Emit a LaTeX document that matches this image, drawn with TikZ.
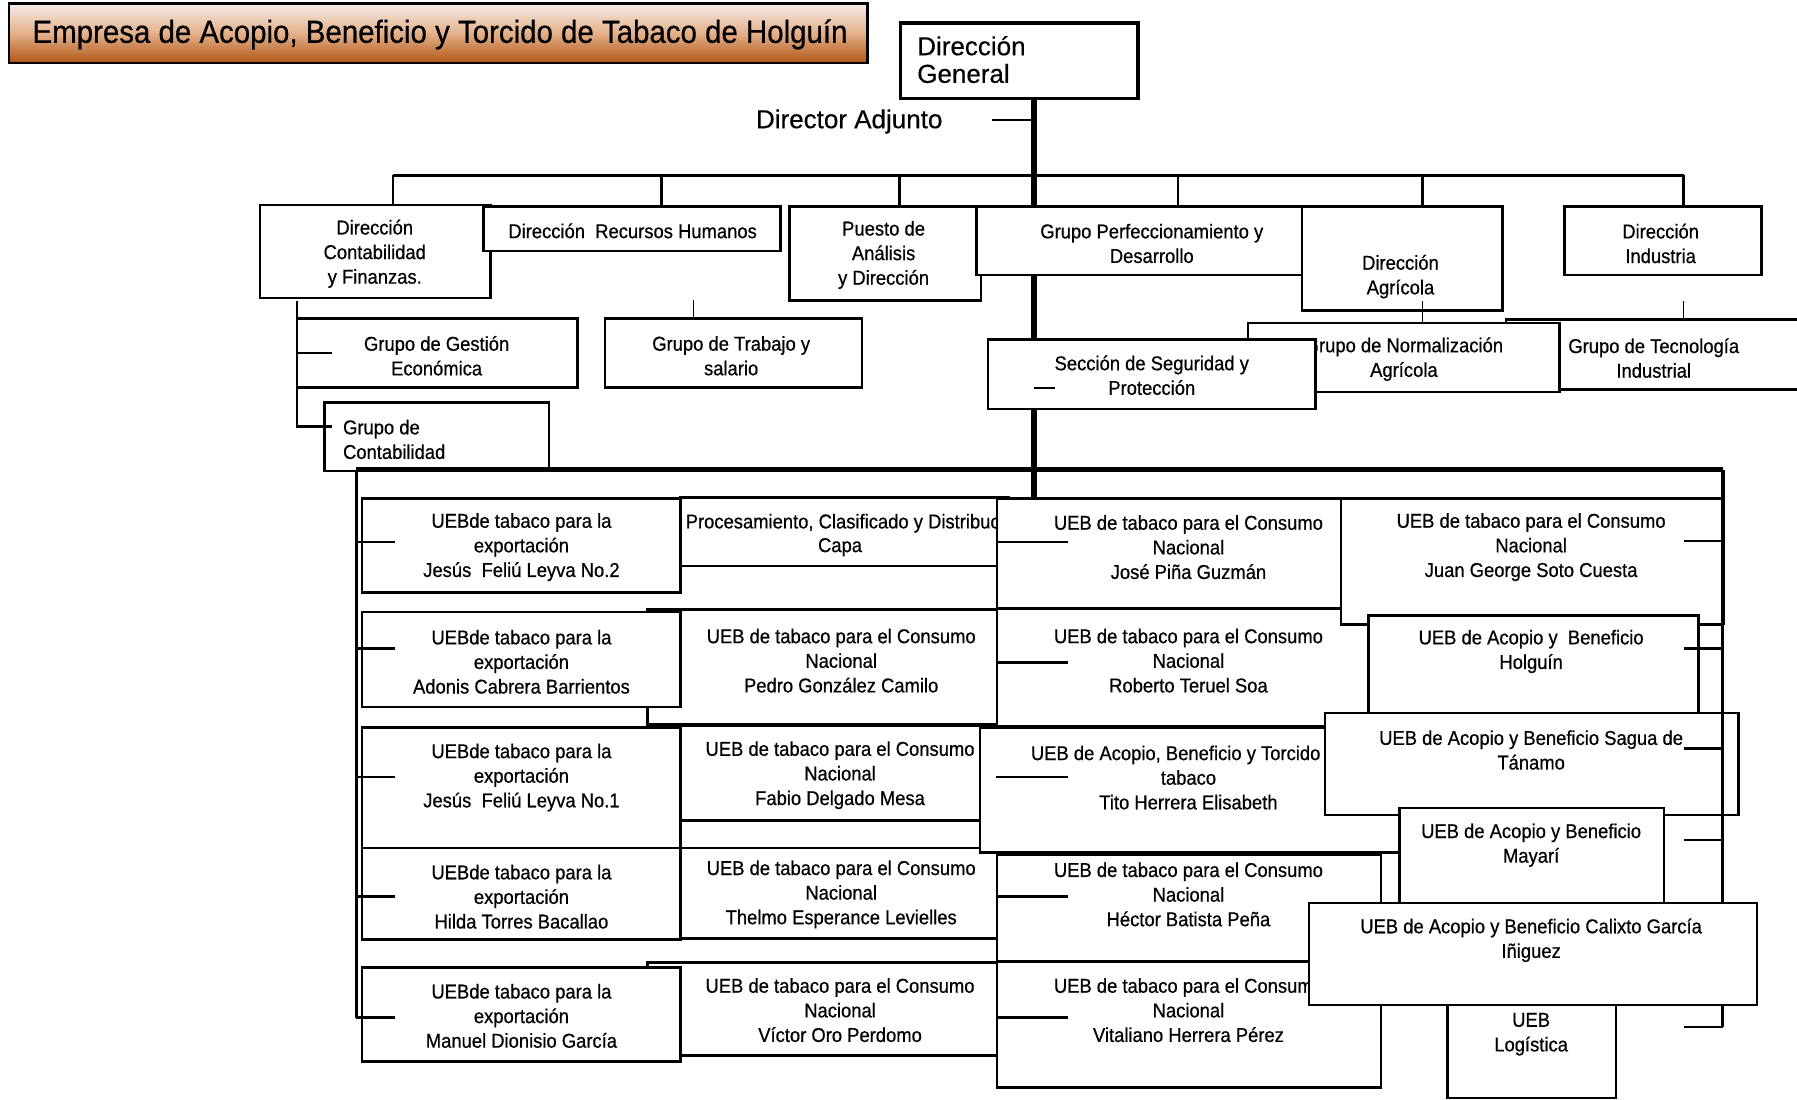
\documentclass[tikz,border=0pt]{standalone}
\usepackage{fontspec}
\setmainfont{Liberation Sans}[FakeBold=0.4]
\newfontfamily\boxfont{Liberation Sans}[FakeStretch=0.92, FakeBold=0.6]
\usepackage{tikz}
\usetikzlibrary{fit}

\definecolor{titletop}{RGB}{246,236,232}
\definecolor{titlemid}{RGB}{228,176,138}
\definecolor{titlebot}{RGB}{176,86,20}

\begin{document}
\begin{tikzpicture}[x=0.573pt, y=-0.573pt,
    unit/.style={draw, line width=1.3pt, fill=white, inner sep=0pt},
    txt/.style={font=\boxfont\fontsize{10}{12.3}\selectfont, align=center, inner sep=0pt, yshift=-1.4pt},
    head/.style={font=\fontsize{13}{13.8}\selectfont, inner sep=0pt},
    link/.style={line width=1.3pt},
    tick/.style={line width=0.7pt},
    trunk/.style={line width=3pt}]
    \useasboundingbox (0,0) rectangle (1568,959);
    \clip (0,0) rectangle (1568,959);

    % Title
    \node[draw, line width=1.2pt, top color=titletop, bottom color=titlebot, middle color=titlemid,
          inner sep=0pt, fit={(8,3) (757,55)}] (title) {};
    \node[font=\boxfont\fontsize{16}{18}\selectfont, inner sep=0pt] (titletext) at (384,30)
          {Empresa de Acopio, Beneficio y Torcido de Tabaco de Holguín};

    % Bus points
    \coordinate (d1) at (343,153);
    \coordinate (d2) at (577,153);
    \coordinate (d3) at (785,153);
    \coordinate (d4) at (902,153);
    \coordinate (d5) at (1028,153);
    \coordinate (d6) at (1241,153);
    \coordinate (d7) at (1469,153);

    % Direccion General and adjunto
    \node[unit, line width=1.6pt, fit={(786,20) (993,86)}] (dg) {};
    \node[head, align=left, anchor=west] (dgt) at (800,52) {Dirección\\General};
    \node[head] (adj) at (741,106) {Director Adjunto};
    \coordinate (adjdash) at (866,105);
    \draw[tick, line width=1pt] (adjdash) -- (adjdash -| d4);

    % Trunk
    \draw[trunk] (d4 |- dg.south) -- (d4 |- 0,434);

    % Frame of the UEB
    \coordinate (fl) at (311,410);
    \coordinate (fr) at (1503,410);
    \draw[link] (fl) -- (fl |- 0,888);
    \draw[line width=2pt] (fr) -- (fr |- 0,545);

    % First level
    \node[unit, fit={(227,179) (428,260)}] (dcf) {};
    \node[txt] (dcft) at (327,219) {Dirección\\Contabilidad\\y Finanzas.};
    \node[unit, fit={(422,180) (681,219)}] (drh) {};
    \node[txt] (drht) at (552,199) {Dirección\ \ Recursos Humanos};
    \node[unit, fit={(689,180) (856,262)}] (pad) {};
    \node[txt] (padt) at (771,220) {Puesto de\\Análisis\\y Dirección};
    \node[unit, fit={(852,180) (1136,240)}] (gpd) {};
    \node[txt] (gpdt) at (1005,210) {Grupo Perfeccionamiento y\\Desarrollo};
    \node[unit, fit={(1136,180) (1311,271)}] (dag) {};
    \node[txt] (dagt) at (1222,239) {Dirección\\Agrícola};
    \node[unit, fit={(1365,180) (1537,240)}] (din) {};
    \node[txt] (dint) at (1449,210) {Dirección\\Industria};

    \draw[link] (d1) -- (d7);
    \foreach \b/\n in {d1/dcf, d2/drh, d3/pad, d5/gpd, d6/dag, d7/din}
        \draw[link] (\b) -- (\b |- \n.north);

    % Second level
    \node[unit, fit={(259,278) (504,338)}] (gge) {};
    \node[txt] (gget) at (381,308) {Grupo de Gestión\\Económica};
    \node[unit, fit={(528,278) (752,338)}] (gts) {};
    \node[txt] (gtst) at (638,308) {Grupo de Trabajo y\\salario};
    \node[unit, fit={(283,351) (479,411)}] (gco) {};
    \node[txt, align=left, anchor=west] (gcot) at (299,381) {Grupo de\\Contabilidad};

    \coordinate (lc) at (259,263);
    \draw[link] (lc) |- (290,372);
    \draw[link] (lc |- 0,308) -- ++(31,0);
    \coordinate (rh) at (605,262);
    \draw[tick] (rh) -- (rh |- gts.north);

    \node[unit, fit={(1314,279) (1620,340)}] (gtec) {};
    \node[txt] (gtect) at (1443,310) {Grupo de Tecnología\\Industrial};
    \node[unit, fit={(1089,282) (1361,342)}] (gna) {};
    \node[txt] (gnat) at (1225,311) {Grupo de Normalización\\Agrícola};
    \node[unit, fit={(862,296) (1148,357)}] (ssp) {};
    \node[txt] (sspt) at (1005,325) {Sección de Seguridad y\\Protección};

    \coordinate (ag) at (1241,263);
    \draw[tick] (ag) -- (ag |- gna.north);
    \coordinate (ind) at (1469,263);
    \draw[tick] (ind) -- (ind |- gtec.north);
    \draw[tick, line width=1pt] (ssp.south west) ++(41,-20) -- ++(19,0);

    \draw[line width=2.6pt] (fl) -- (fr);

    % UEB, second column
    \node[unit, fit={(565,532) (870,632)}] (cn1) {};
    \node[txt] (cn1t) at (734,574) {UEB de tabaco para el Consumo\\Nacional\\Pedro González Camilo};
    \node[unit, fit={(565,840) (870,921)}] (cn4) {};
    \node[txt] (cn4t) at (733,879) {UEB de tabaco para el Consumo\\Nacional\\Víctor Oro Perdomo};
    \node[unit, fit={(594,434) (880,494)}] (pc) {};
    \node[txt, anchor=west] (pct1) at (598,454) {Procesamiento, Clasificado y Distribución};
    \node[txt] (pct2) at (733,475) {Capa};
    \node[unit, fit={(594,633) (855,740)}] (cn2b) {};
    \node[unit, fit={(594,633) (855,716)}] (cn2) {};
    \node[txt] (cn2t) at (733,674) {UEB de tabaco para el Consumo\\Nacional\\Fabio Delgado Mesa};
    \node[unit, fit={(594,740) (870,819)}] (cn3) {};
    \node[txt] (cn3t) at (734,778) {UEB de tabaco para el Consumo\\Nacional\\Thelmo Esperance Levielles};

    % UEB de exportacion
    \node[unit, fit={(316,435) (594,517)}] (ex1) {};
    \node[txt] (ex1t) at (455,475) {UEBde tabaco para la\\exportación\\Jesús\ \ Feliú Leyva No.2};
    \node[unit, fit={(316,534) (594,617)}] (ex2) {};
    \node[txt] (ex2t) at (455,575) {UEBde tabaco para la\\exportación\\Adonis Cabrera Barrientos};
    \node[unit, fit={(316,635) (594,740)}] (ex3) {};
    \node[txt] (ex3t) at (455,676) {UEBde tabaco para la\\exportación\\Jesús\ \ Feliú Leyva No.1};
    \node[unit, fit={(316,740) (594,820)}] (ex4) {};
    \node[txt] (ex4t) at (455,780) {UEBde tabaco para la\\exportación\\Hilda Torres Bacallao};
    \node[unit, fit={(316,844) (594,926)}] (ex5) {};
    \node[txt] (ex5t) at (455,884) {UEBde tabaco para la\\exportación\\Manuel Dionisio García};

    % UEB, third column
    \node[unit, fit={(870,435) (1170,531)}] (cn5) {};
    \node[txt] (cn5t) at (1037,475) {UEB de tabaco para el Consumo\\Nacional\\José Piña Guzmán};
    \node[unit, fit={(870,531) (1200,634)}] (cn6) {};
    \node[txt] (cn6t) at (1037,574) {UEB de tabaco para el Consumo\\Nacional\\Roberto Teruel Soa};
    \node[unit, fit={(855,635) (1221,744)}] (tor) {};
    \node[txt] (tort) at (1037,676) {UEB de Acopio, Beneficio y Torcido de\\tabaco\\Tito Herrera Elisabeth};
    \node[unit, fit={(870,746) (1205,839)}] (cn7) {};
    \node[txt] (cn7t) at (1037,778) {UEB de tabaco para el Consumo\\Nacional\\Héctor Batista Peña};
    \node[unit, fit={(870,839) (1205,949)}] (cn8) {};
    \node[txt] (cn8t) at (1037,879) {UEB de tabaco para el Consumo\\Nacional\\Vitaliano Herrera Pérez};

    % UEB, fourth column
    \node[unit, fit={(1170,435) (1503,545)}] (cn9) {};
    \node[txt] (cn9t) at (1336,475) {UEB de tabaco para el Consumo\\Nacional\\Juan George Soto Cuesta};
    \node[unit, fit={(1194,537) (1482,622)}] (hol) {};
    \node[txt] (holt) at (1336,566) {UEB de Acopio y\ \ Beneficio\\Holguín};
    \node[unit, fit={(1156,622) (1517,711)}] (sag) {};
    \node[txt] (sagt) at (1336,652) {UEB de Acopio y Beneficio Sagua de\\Tánamo};
    \node[unit, fit={(1221,705) (1452,790)}] (may) {};
    \node[txt] (mayt) at (1336,735) {UEB de Acopio y Beneficio\\Mayarí};

    \draw[link] (fr |- cn9.south) -- (fr |- 0,896);
    \foreach \y in {472,566,653,733}
        \draw[link] (fr |- 0,\y) -- ++(-34,0);

    \node[unit, fit={(1142,788) (1533,877)}] (cal) {};
    \node[txt] (calt) at (1336,818) {UEB de Acopio y Beneficio Calixto García\\Iñiguez};
    \node[unit, fit={(1263,877) (1410,958)}] (log) {};
    \node[txt] (logt) at (1336,900) {UEB\\Logística};
    \draw[link] (fr |- 0,896) -- ++(-34,0);

    % Ticks of the UEB
    \foreach \y in {473,566,678,782,888}
        \draw[link] (fl |- 0,\y) -- ++(34,0);
    \foreach \y in {473,578,678,782,888}
        \draw[link] (cn5.west |- 0,\y) -- ++(63,0);
\end{tikzpicture}
\end{document}
